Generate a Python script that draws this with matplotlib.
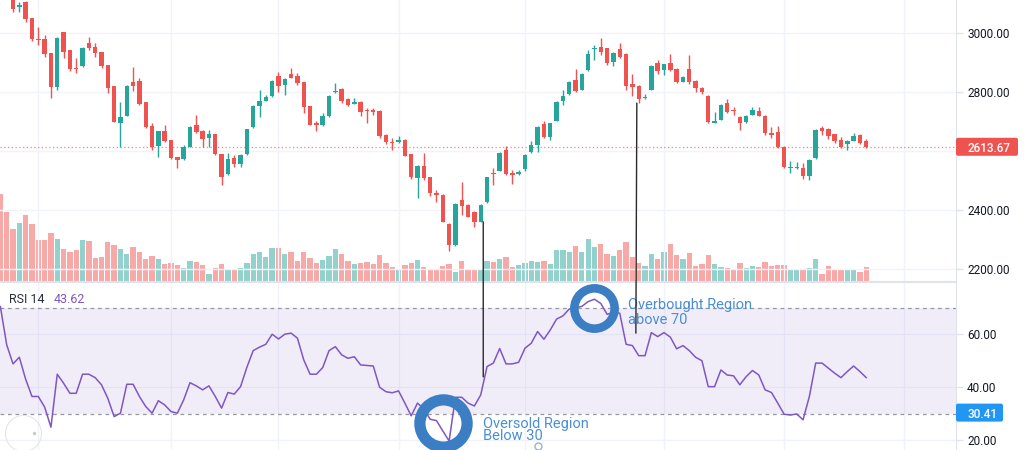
import matplotlib
matplotlib.use("Agg")
import matplotlib.pyplot as plt
from matplotlib.patches import ConnectionPatch, FancyBboxPatch
from matplotlib.transforms import IdentityTransform
import numpy as np

plt.rcParams['font.family'] = ['Roboto', 'DejaVu Sans']

# daily candles (first two sit above the visible range)
opens = [3160, 3140, 3125, 3087, 3106, 3050, 2980, 2979, 2931, 2816,
         3002, 2942, 2882, 2888, 2965, 2954, 2937, 2891, 2820, 2694,
         2719, 2835, 2838, 2765, 2685, 2616, 2667, 2637, 2578, 2571,
         2614, 2688, 2668, 2645, 2656, 2589, 2521, 2575, 2555, 2589,
         2680, 2753, 2770, 2786, 2854, 2825, 2861, 2854, 2833, 2752,
         2693, 2688, 2718, 2800, 2809, 2775, 2759, 2767, 2739, 2739,
         2735, 2654, 2631, 2629, 2637, 2589, 2507, 2550, 2510, 2456,
         2450, 2352, 2280, 2433, 2416, 2392, 2360, 2425, 2526, 2533,
         2603, 2526, 2521, 2537, 2595, 2620, 2691, 2648, 2702, 2770,
         2793, 2840, 2807, 2874, 2946, 2954, 2948, 2900, 2946, 2929,
         2827, 2820, 2778, 2807, 2899, 2874, 2899, 2878, 2835, 2878,
         2838, 2814, 2786, 2696, 2705, 2761, 2739, 2716, 2697, 2722,
         2735, 2718, 2662, 2665, 2614, 2541, 2541, 2543, 2515, 2575,
         2679, 2674, 2656, 2637, 2622, 2634, 2654, 2633]
highs = [3170, 3150, 3130, 3106, 3108, 3050, 3021, 2993, 2931, 2986,
         3004, 2942, 2914, 2952, 2987, 2965, 2937, 2893, 2820, 2767,
         2823, 2886, 2846, 2765, 2696, 2667, 2688, 2637, 2579, 2620,
         2684, 2722, 2670, 2671, 2657, 2589, 2592, 2586, 2588, 2675,
         2754, 2807, 2788, 2840, 2869, 2847, 2880, 2865, 2833, 2752,
         2702, 2729, 2788, 2829, 2813, 2778, 2778, 2770, 2744, 2744,
         2737, 2656, 2643, 2650, 2640, 2590, 2551, 2592, 2512, 2467,
         2452, 2354, 2422, 2495, 2418, 2395, 2418, 2512, 2541, 2596,
         2617, 2535, 2535, 2588, 2634, 2684, 2702, 2696, 2769, 2807,
         2838, 2877, 2863, 2942, 2959, 2984, 2950, 2935, 2965, 2931,
         2860, 2822, 2793, 2890, 2908, 2896, 2928, 2880, 2854, 2925,
         2840, 2816, 2788, 2733, 2758, 2775, 2748, 2718, 2721, 2750,
         2748, 2720, 2680, 2684, 2616, 2567, 2563, 2558, 2571, 2673,
         2684, 2676, 2658, 2646, 2636, 2660, 2656, 2639]
lows = [3125, 3118, 3072, 3072, 3038, 2973, 2959, 2917, 2778, 2807,
        2914, 2872, 2865, 2886, 2942, 2920, 2880, 2797, 2698, 2614,
        2717, 2804, 2756, 2677, 2603, 2580, 2631, 2571, 2541, 2570,
        2612, 2660, 2614, 2614, 2586, 2484, 2518, 2546, 2546, 2587,
        2678, 2716, 2768, 2784, 2801, 2790, 2847, 2824, 2729, 2686,
        2667, 2684, 2716, 2797, 2761, 2753, 2758, 2718, 2696, 2722,
        2643, 2623, 2603, 2627, 2582, 2503, 2439, 2501, 2447, 2427,
        2359, 2261, 2278, 2382, 2374, 2343, 2358, 2423, 2484, 2531,
        2518, 2487, 2518, 2533, 2593, 2595, 2644, 2637, 2700, 2756,
        2791, 2800, 2805, 2871, 2908, 2925, 2891, 2888, 2914, 2807,
        2786, 2763, 2776, 2805, 2861, 2857, 2871, 2829, 2834, 2827,
        2801, 2792, 2696, 2695, 2703, 2728, 2722, 2671, 2695, 2720,
        2718, 2654, 2643, 2610, 2541, 2526, 2537, 2503, 2501, 2573,
        2654, 2639, 2628, 2609, 2603, 2632, 2623, 2610]
closes = [3135, 3125, 3080, 3095, 3046, 2979, 2976, 2928, 2816, 2984,
          2937, 2877, 2877, 2950, 2948, 2931, 2889, 2812, 2699, 2714,
          2820, 2820, 2758, 2682, 2614, 2667, 2634, 2577, 2569, 2614,
          2682, 2663, 2639, 2657, 2588, 2510, 2572, 2555, 2586, 2673,
          2752, 2770, 2784, 2838, 2820, 2845, 2848, 2829, 2750, 2688,
          2688, 2718, 2786, 2804, 2770, 2756, 2767, 2733, 2735, 2733,
          2650, 2629, 2628, 2637, 2584, 2512, 2549, 2507, 2456, 2450,
          2360, 2280, 2420, 2414, 2376, 2360, 2416, 2510, 2521, 2594,
          2521, 2519, 2528, 2586, 2620, 2682, 2648, 2694, 2767, 2786,
          2835, 2803, 2861, 2929, 2950, 2937, 2899, 2933, 2920, 2820,
          2816, 2775, 2784, 2888, 2871, 2894, 2874, 2835, 2852, 2835,
          2812, 2799, 2699, 2702, 2756, 2733, 2735, 2694, 2719, 2739,
          2719, 2662, 2654, 2612, 2546, 2546, 2546, 2515, 2569, 2671,
          2668, 2651, 2633, 2614, 2634, 2650, 2628, 2613.67]
volumes = [873, 690, 517, 577, 660, 567, 410, 413, 483, 420,
           323, 287, 310, 407, 400, 233, 240, 393, 360, 323,
           273, 337, 290, 223, 250, 223, 167, 180, 157, 133,
           200, 193, 160, 67, 133, 167, 123, 123, 133, 185,
           273, 290, 240, 333, 333, 267, 290, 200, 290, 227,
           183, 210, 247, 323, 273, 200, 173, 183, 187, 167,
           257, 183, 143, 123, 157, 183, 207, 143, 123, 123,
           150, 173, 90, 200, 107, 110, 110, 200, 193, 223,
           240, 140, 157, 177, 200, 190, 200, 167, 307, 307,
           293, 350, 293, 423, 340, 367, 267, 250, 310, 390,
           240, 183, 150, 273, 223, 290, 373, 260, 223, 277,
           150, 167, 260, 167, 143, 133, 107, 183, 133, 150,
           140, 190, 147, 160, 160, 113, 113, 113, 127, 217,
           67, 150, 123, 107, 117, 117, 93, 143]
rsi = [70.4, 56.0, 48.8, 51.3, 43.0, 36.5, 36.5, 32.5, 24.9, 44.9,
       41.5, 37.7, 37.7, 44.9, 44.9, 43.6, 40.9, 35.8, 28.9, 30.2,
       41.1, 41.1, 36.5, 32.7, 30.2, 34.9, 33.3, 30.8, 30.2, 35.2,
       41.7, 40.5, 39.0, 40.5, 36.5, 32.1, 38.0, 37.4, 40.2, 47.5,
       53.8, 55.1, 56.2, 60.0, 58.2, 60.0, 60.4, 58.5, 50.3, 44.9,
       44.9, 47.4, 53.8, 55.3, 52.2, 50.9, 51.5, 48.4, 48.2, 48.0,
       40.0, 38.3, 37.9, 38.6, 34.0, 29.2, 34.0, 31.8, 27.9, 27.4,
       23.5, 19.7, 36.2, 36.2, 34.0, 32.9, 37.1, 47.8, 49.1, 54.6,
       48.8, 48.8, 49.4, 54.7, 56.6, 61.0, 58.1, 61.6, 65.7, 66.9,
       69.5, 70.0, 70.5, 72.3, 73.2, 71.6, 67.5, 68.3, 67.9, 56.2,
       55.7, 51.9, 51.9, 60.6, 59.1, 60.6, 58.9, 54.5, 55.7, 53.8,
       51.3, 50.0, 40.2, 40.2, 46.5, 44.6, 44.3, 40.9, 44.0, 46.3,
       44.6, 39.0, 38.0, 34.0, 29.8, 29.5, 29.9, 27.7, 36.5, 49.1,
       49.1, 47.2, 45.3, 43.6, 45.9, 48.0, 45.9, 43.62]

price_ticks = [2200, 2400, 2600, 2800, 3000]
rsi_ticks = [20, 40, 60]
month_starts = [6, 27, 44, 63, 83, 105, 124, 143]
rsi_marker = 30.41

UP, DOWN = '#26a69a', '#ef5350'
UP_VOL, DOWN_VOL = '#93d2cc', '#f7a9a7'
PURPLE = '#7e57c2'
RING = '#3b7ec4'
NOTE = '#4a8fd4'
GRID = '#f0f3fa'
EDGE = '#e0e3eb'
TXT = '#131722'

W, H = 1024, 450
fig = plt.figure(figsize=(W / 100, H / 100), dpi=100)
fig.patch.set_facecolor('white')

x = np.arange(len(closes))
o, hi, lo, c = map(np.array, (opens, highs, lows, closes))
up = c >= o
xlim = (-0.06, 151.2)
right = 956 / W
top_rect = [0, 1 - 281 / H, right, 281 / H]
rsi_rect = [0, 0, right, 168 / H]

# volume sits underneath the candles in the same pane
av = fig.add_axes(top_rect)
av.bar(x, volumes, width=0.84, color=np.where(up, UP_VOL, DOWN_VOL), linewidth=0)
av.set_xlim(xlim)
av.set_ylim(0, 2810)
av.axis('off')

ax = fig.add_axes(top_rect, facecolor='none')
ax.vlines(x, lo, hi, colors=np.where(up, UP, DOWN), linewidth=1, zorder=3)
body = np.maximum(np.abs(c - o), 3)
ax.bar(x, body, bottom=np.minimum(o, c), width=0.7,
       color=np.where(up, UP, DOWN), linewidth=0, zorder=4)
ax.axhline(closes[-1], color=DOWN, ls=(0, (1, 2)), lw=0.9, alpha=0.7, zorder=2)
ax.set_xlim(xlim)
ax.set_ylim(2158, 3112)

ar = fig.add_axes(rsi_rect)
ar.set_xlim(xlim)
ar.set_ylim(16.3, 79.7)
ar.axhspan(30, 70, color=PURPLE, alpha=0.1, lw=0)
for lvl in (30, 70):
    ar.axhline(lvl, color='#9598a1', lw=0.9, ls=(0, (3, 3)))
ar.plot(x, rsi, color=PURPLE, lw=1.1, zorder=3)

for a, ticks, drop in ((ax, price_ticks, 2600), (ar, rsi_ticks, None)):
    a.yaxis.tick_right()
    a.set_yticks(ticks)
    a.set_yticklabels(['' if t == drop else f'{t:.2f}' for t in ticks])
    a.set_xticks(month_starts)
    a.tick_params(axis='x', length=0, labelbottom=False)
    a.tick_params(axis='y', length=5, width=1, color=EDGE, labelsize=8.5,
                  labelcolor=TXT, pad=3)
    a.grid(color=GRID, lw=1)
    a.set_axisbelow(True)
    for s in ('top', 'left'):
        a.spines[s].set_visible(False)
    for s in ('right', 'bottom'):
        a.spines[s].set_color(EDGE)
ar.spines['bottom'].set_visible(False)
ar.spines['top'].set_visible(True)
ar.spines['top'].set_color(EDGE)


def badge(a, value, width, color):
    y = a.transData.transform((0, value))[1]
    x0 = a.transAxes.transform((1, 0))[0]
    fig.add_artist(FancyBboxPatch((x0, y - 9), width, 18,
                                  boxstyle='round,pad=0,rounding_size=2',
                                  transform=IdentityTransform(),
                                  fc=color, ec='none', zorder=5))
    fig.text((x0 + 11) / W, y / H, f'{value:.2f}', color='white', fontsize=8.5,
             fontweight='medium', va='center_baseline', ha='left', zorder=6)


badge(ax, closes[-1], 62, DOWN)
badge(ar, rsi_marker, 47, '#2196f3')

# RSI legend
ar.text(0.0097, 0.877, 'RSI 14', transform=ar.transAxes, fontsize=9,
        color='#2a2e39', va='baseline')
ar.text(0.0565, 0.877, f'{rsi[-1]:.2f}', transform=ar.transAxes, fontsize=9,
        color=PURPLE, va='baseline')

# rings around the extremes
ar.plot(94, 70, marker='o', ms=29, mfc='none', mec=RING, mew=6.2, clip_on=False, zorder=5)
ar.plot(70, 26.6, marker='o', ms=34, mfc='none', mec=RING, mew=8.1, clip_on=False, zorder=5)
ar.text(99.35, 69.4, 'Overbought Region', color=NOTE, fontsize=10.5, va='baseline')
ar.text(99.35, 64.0, 'above 70', color=NOTE, fontsize=10.5, va='baseline')
ar.text(76.3, 24.75, 'Oversold Region', color=NOTE, fontsize=10.5, va='baseline')
ar.text(76.3, 20.1, 'Below 30', color=NOTE, fontsize=10.5, va='baseline')
ar.plot(85.1, 17.85, marker='o', ms=5, mfc='white', mec='#9bb3c9', mew=1, zorder=5)

# faint logo ring bottom-left
ar.plot(0.0244, 0.1, transform=ar.transAxes, marker='o', ms=26, mfc='none',
        mec='#e6e6e6', mew=0.8)
ar.plot(0.0359, 0.1, transform=ar.transAxes, marker='o', ms=1.5, color='#cccccc')

# hand-drawn pointers from price to RSI
for (xa, pa), (xb, rb) in (((76.4, 2359), (76.4, 43.9)), ((100.7, 2762), (100.55, 60.4))):
    fig.add_artist(ConnectionPatch((xa, pa), (xb, rb), coordsA=ax.transData,
                                   coordsB=ar.transData, color='#2a2a2a', lw=1, zorder=6))

fig.savefig('out.png', dpi=100, facecolor='white')
